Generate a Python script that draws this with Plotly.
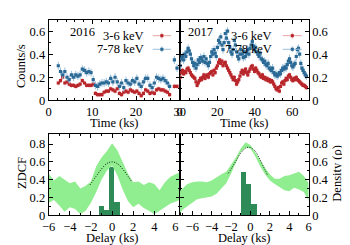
import plotly.graph_objects as go

# ---------------- data ----------------
T2016 = [2.2, 2.7, 3.2, 3.7, 4.2, 4.7, 5.2, 5.7, 6.2, 6.7, 7.2, 7.7, 8.2, 8.7, 9.2, 9.7,
         10.2, 10.7, 11.2, 11.7, 12.2, 12.7, 13.2, 13.7, 14.2, 14.7, 15.2, 15.7, 16.2, 16.7,
         17.2, 17.7, 18.2, 18.7, 19.2, 19.7, 20.2, 20.7, 21.2, 21.7, 22.2, 22.7, 23.2, 23.7,
         24.2, 24.7, 25.2, 25.7, 26.2, 26.7, 27.2, 27.7, 28.8, 29.4]
HARD2016 = [0.30, 0.25, 0.22, 0.25, 0.20, 0.18, 0.22, 0.20, 0.22, 0.21,
            0.22, 0.27, 0.26, 0.24, 0.25, 0.24, 0.18, 0.13, 0.12, 0.14,
            0.15, 0.15, 0.16, 0.15, 0.19, 0.16, 0.20, 0.16, 0.12, 0.15,
            0.11, 0.17, 0.15, 0.14, 0.17, 0.16, 0.19, 0.14, 0.12, 0.16,
            0.19, 0.19, 0.13, 0.11, 0.15, 0.20, 0.19, 0.18, 0.19, 0.17,
            0.15, 0.12, 0.35, 0.28]
SOFT2016 = [0.15, 0.17, 0.20, 0.15, 0.16, 0.14, 0.13, 0.13, 0.12, 0.13,
            0.14, 0.17, 0.15, 0.13, 0.13, 0.13, 0.14, 0.06, 0.05, 0.05,
            0.05, 0.07, 0.08, 0.08, 0.10, 0.09, 0.08, 0.10, 0.06, 0.05,
            0.07, 0.08, 0.07, 0.09, 0.08, 0.07, 0.08, 0.06, 0.04, 0.06,
            0.09, 0.08, 0.06, 0.07, 0.06, 0.09, 0.10, 0.09, 0.09, 0.08,
            0.07, 0.05, 0.12, 0.12]

T2017 = [0.3, 0.9, 1.5, 2.1, 2.7, 3.3, 3.9, 4.5, 5.1, 5.7, 6.3, 6.9, 7.5, 8.1, 8.7, 9.3, 9.9,
         10.5, 11.1, 11.7, 12.3, 12.9, 13.5, 14.1, 14.7, 15.3, 15.9, 16.5, 17.1, 17.7, 18.3,
         18.9, 19.5, 20.1, 20.7, 21.3, 21.9, 22.5, 23.1, 23.7, 24.3, 24.9, 25.5, 26.1, 26.7,
         27.3, 27.9, 28.5, 29.1, 29.7, 30.3, 30.9, 31.5, 32.1, 32.7, 33.3, 33.9, 34.5, 35.1,
         35.7, 36.3, 36.9, 37.5, 38.1, 38.7, 39.3, 39.9, 40.5, 41.1, 41.7, 42.3, 42.9, 43.5,
         44.1, 44.7, 45.3, 45.9, 46.5, 47.1, 47.7, 48.3, 48.9, 49.5, 50.1, 50.7, 51.3, 51.9,
         52.5, 53.1, 53.7, 54.3, 54.9, 55.5, 56.1, 56.7, 57.3, 57.9, 58.5, 59.1, 59.7, 60.3,
         60.9, 61.5, 62.1, 62.7, 63.3, 63.9, 64.5, 65.1, 65.7, 66.3, 66.9, 67.5]
HARD2017 = [0.30, 0.36, 0.38, 0.35, 0.40, 0.38, 0.42,
            0.45, 0.43, 0.40,
            0.36, 0.33, 0.30, 0.32, 0.28,
            0.31, 0.35, 0.33, 0.37, 0.36,
            0.34, 0.38, 0.33, 0.36, 0.32, 0.30, 0.33,
            0.38, 0.42, 0.40, 0.44, 0.41, 0.38,
            0.46, 0.52, 0.50, 0.55, 0.48, 0.44, 0.50,
            0.58, 0.54, 0.60, 0.50, 0.46, 0.42, 0.40,
            0.44, 0.52, 0.48, 0.42, 0.38, 0.36, 0.40,
            0.44, 0.40, 0.37, 0.42, 0.38, 0.41, 0.44, 0.40,
            0.45, 0.48, 0.51, 0.47, 0.44, 0.46, 0.42,
            0.40, 0.38, 0.41, 0.36, 0.35, 0.33, 0.34,
            0.31, 0.30, 0.32, 0.28, 0.27, 0.26, 0.28,
            0.24, 0.22, 0.23, 0.21, 0.22, 0.24, 0.23,
            0.26, 0.28, 0.27, 0.29, 0.28, 0.31, 0.34,
            0.36, 0.33, 0.30, 0.29, 0.31, 0.32, 0.38,
            0.44, 0.45, 0.40, 0.32, 0.28, 0.26, 0.24, 0.22, 0.21]
SOFT2017 = [0.20, 0.24, 0.26, 0.23, 0.25, 0.24, 0.27,
            0.28, 0.26, 0.24,
            0.22, 0.21, 0.20, 0.19, 0.16,
            0.13, 0.15, 0.17, 0.19, 0.18,
            0.20, 0.22, 0.19, 0.21, 0.22, 0.20, 0.23,
            0.24, 0.25, 0.22, 0.26, 0.24, 0.28,
            0.30, 0.33, 0.35, 0.32, 0.34, 0.30, 0.32,
            0.33, 0.30, 0.28, 0.26, 0.24, 0.22, 0.20,
            0.18, 0.20, 0.17, 0.14, 0.16, 0.18, 0.21,
            0.24, 0.26, 0.23, 0.25, 0.27, 0.24, 0.22, 0.25,
            0.27, 0.29, 0.30, 0.27, 0.25, 0.28, 0.26,
            0.24, 0.23, 0.21, 0.20, 0.22, 0.19, 0.20,
            0.18, 0.19, 0.17, 0.18, 0.16, 0.17, 0.16,
            0.14, 0.12, 0.10, 0.09, 0.11, 0.08, 0.12,
            0.15, 0.16, 0.14, 0.17, 0.19, 0.18, 0.21,
            0.22, 0.20, 0.18, 0.17, 0.19, 0.18, 0.20,
            0.18, 0.17, 0.16, 0.15, 0.14, 0.13, 0.13, 0.12, 0.11]

ERR_HARD = 0.035
ERR_SOFT = 0.02
ERR_T2016 = 0.25
ERR_T2017 = 0.3

# ZDCF 2016
DELAY_L = [-6, -5.5, -5, -4.5, -4, -3.5, -3, -2.5, -2, -1.5, -1, -0.5, 0, 0.5, 1, 1.5, 2,
           2.5, 3, 3.5, 4, 4.5, 5, 5.5, 6, 6.4]
ZDCF_HI_L = [0.47, 0.39, 0.44, 0.40, 0.36, 0.38, 0.30, 0.33, 0.38, 0.55,
             0.65, 0.72, 0.81, 0.73, 0.60, 0.47, 0.37, 0.38, 0.34, 0.37,
             0.35, 0.28, 0.37, 0.43, 0.46, 0.48]
ZDCF_LO_L = [0.14, 0.17, 0.11, 0.04, 0.09, 0.07, 0.01, 0.05, 0.14, 0.26,
             0.40, 0.50, 0.56, 0.45, 0.29, 0.16, 0.09, 0.13, 0.08, 0.05,
             0.01, 0.05, 0.08, 0.13, 0.15, 0.17]
HIST_X_L = [-1.05, -0.55, -0.05, 0.45]
HIST_Y_L = [0.10, 0.055, 0.535, 0.14]
FIT_X_L = [-2.1, -1.5, -1, -0.5, 0, 0.5, 1, 1.5, 1.9]
FIT_Y_L = [0.34, 0.44, 0.52, 0.58, 0.60, 0.58, 0.52, 0.44, 0.37]

# ZDCF 2017
DELAY_R = [-7.3, -7, -6.5, -6, -5.5, -5, -4.5, -4, -3.5, -3, -2.5, -2, -1.5, -1, -0.5, 0,
           0.5, 1, 1.5, 2, 2.5, 3, 3.5, 4, 4.5, 5, 5.5, 6]
ZDCF_HI_R = [0.27, 0.30, 0.35, 0.37, 0.38, 0.38, 0.37, 0.39, 0.43, 0.46,
             0.49, 0.57, 0.65, 0.75, 0.82, 0.79, 0.71, 0.62, 0.53, 0.46,
             0.41, 0.41, 0.44, 0.45, 0.47, 0.49, 0.44, 0.36]
ZDCF_LO_R = [0.02, 0.06, 0.10, 0.14, 0.18, 0.19, 0.20, 0.21, 0.24, 0.30,
             0.36, 0.47, 0.60, 0.71, 0.76, 0.75, 0.66, 0.55, 0.46, 0.39,
             0.35, 0.31, 0.28, 0.27, 0.31, 0.29, 0.26, 0.16]
HIST_X_R = [-0.73, -0.2, 0.33]
HIST_Y_R = [0.48, 0.345, 0.127]
FIT_X_R = [-2.3, -2, -1.5, -1, -0.5, -0.2, 0, 0.5, 1, 1.5, 1.8]
FIT_Y_R = [0.47, 0.52, 0.61, 0.70, 0.755, 0.765, 0.76, 0.72, 0.62, 0.51, 0.44]

# ---------------- style ----------------
W, H = 350, 245
FONT = "Liberation Serif"
RED = "#b8262b"
RED_ERR = "#eba2a2"
BLUE = "#2c6a96"
BLUE_ERR = "#9cc0dc"
BAND = "#90ee90"
BAR = "#2e8b57"


def px(x):
    return x / W


def py(y):
    return 1 - y / H


fig = go.Figure()


def lc_traces(t, soft, hard, et, xa, ya):
    fig.add_trace(go.Scatter(
        x=t, y=soft, mode="markers", xaxis=xa, yaxis=ya, showlegend=False,
        marker=dict(color=RED, size=3.2, symbol="square"),
        error_y=dict(type="constant", value=ERR_SOFT, color=RED_ERR, thickness=1, width=0),
        error_x=dict(type="constant", value=et, color=RED_ERR, thickness=1, width=0)))
    fig.add_trace(go.Scatter(
        x=t, y=hard, mode="markers", xaxis=xa, yaxis=ya, showlegend=False,
        marker=dict(color=BLUE, size=3.2, symbol="square"),
        error_y=dict(type="constant", value=ERR_HARD, color=BLUE_ERR, thickness=1, width=0),
        error_x=dict(type="constant", value=et, color=BLUE_ERR, thickness=1, width=0)))


lc_traces(T2016, SOFT2016, HARD2016, ERR_T2016, "x", "y")
lc_traces(T2017, SOFT2017, HARD2017, ERR_T2017, "x2", "y2")


def zdcf_traces(d, lo, hi, hx, hy, hw, fx, fy, xa, ya):
    fig.add_trace(go.Scatter(x=d, y=lo, mode="lines", line=dict(width=0, color=BAND),
                             xaxis=xa, yaxis=ya, showlegend=False, hoverinfo="skip"))
    fig.add_trace(go.Scatter(x=d, y=hi, mode="lines", line=dict(width=0, color=BAND),
                             fill="tonexty", fillcolor=BAND,
                             xaxis=xa, yaxis=ya, showlegend=False))
    fig.add_trace(go.Bar(x=hx, y=hy, width=hw, marker=dict(color=BAR, line=dict(width=0)),
                         xaxis=xa, yaxis=ya, showlegend=False))
    fig.add_trace(go.Scatter(x=fx, y=fy, mode="lines",
                             line=dict(color="black", width=0.9, dash="1px,1.5px", shape="spline"),
                             xaxis=xa, yaxis=ya, showlegend=False))


zdcf_traces(DELAY_L, ZDCF_LO_L, ZDCF_HI_L, HIST_X_L, HIST_Y_L, 0.5, FIT_X_L, FIT_Y_L, "x3", "y3")
zdcf_traces(DELAY_R, ZDCF_LO_R, ZDCF_HI_R, HIST_X_R, HIST_Y_R, 0.53, FIT_X_R, FIT_Y_R, "x4", "y4")

TOP = [py(95), py(12)]
BOT = [py(213.3), py(130)]
LEFT = [px(35), px(171)]
RIGHT = [px(171), px(305)]

tickfont = dict(family=FONT, size=12.5, color="black")


def ax(domain, rng, dtick, minor, anchor, side=None, labels=True, tickvals=None):
    d = dict(domain=domain, range=rng, dtick=dtick, tick0=0, anchor=anchor,
             showgrid=False, zeroline=False, showline=True, linecolor="black", linewidth=1,
             mirror="allticks", ticks="inside", ticklen=4, tickcolor="black", tickwidth=1,
             tickfont=tickfont, showticklabels=labels,
             minor=dict(ticks="inside", ticklen=2, dtick=minor, tickcolor="black", showgrid=False))
    if side:
        d["side"] = side
    if tickvals is not None:
        d["tickvals"] = tickvals
        d.pop("dtick")
    return d


fig.update_layout(
    width=W, height=H, autosize=False,
    margin=dict(l=0, r=0, t=0, b=0),
    paper_bgcolor="white", plot_bgcolor="white",
    barmode="overlay", bargap=0,
    font=dict(family=FONT, size=12.5, color="black"),
    xaxis=ax(LEFT, [0, 30], 10, 2, "y"),
    yaxis=ax(TOP, [0, 0.7], 0.2, 0.1, "x", tickvals=[0, 0.2, 0.4, 0.6]),
    xaxis2=ax(RIGHT, [0, 68.7], 20, 5, "y2"),
    yaxis2=ax(TOP, [0, 0.7], 0.2, 0.1, "x2", side="right", tickvals=[0, 0.2, 0.4, 0.6]),
    xaxis3=ax(LEFT, [-6, 6.4], 2, 1, "y3", tickvals=[-6, -4, -2, 0, 2, 4, 6]),
    yaxis3=ax(BOT, [0, 0.91], 0.2, 0.1, "x3", tickvals=[0, 0.2, 0.4, 0.6, 0.8]),
    xaxis4=ax(RIGHT, [-7.3, 6], 2, 1, "y4", tickvals=[-6, -4, -2, 0, 2, 4, 6]),
    yaxis4=ax(BOT, [0, 0.91], 0.2, 0.1, "x4", side="right", tickvals=[0, 0.2, 0.4, 0.6, 0.8]),
)

ann = []


def text(x, y, s, angle=0, xanchor="center"):
    ann.append(dict(x=px(x), y=py(y), xref="paper", yref="paper", text=s, showarrow=False,
                    textangle=angle, xanchor=xanchor, yanchor="middle",
                    font=dict(family=FONT, size=12.5, color="black")))


text(7, 60, "Counts/s", angle=-90)
text(7, 170, "ZDCF", angle=-90)
text(335, 170, "Density (ρ)", angle=-90)
text(103, 118, "Time (ks)")
text(238, 118, "Time (ks)")
text(101, 237, "Delay (ks)")
text(238, 237, "Delay (ks)")
text(70, 25, "2016")
text(193, 25, "2017")
text(136, 28.5, "3-6 keV", xanchor="right")
text(136, 42.5, "7-78 keV", xanchor="right")
text(269, 28.5, "3-6 keV", xanchor="right")
text(269, 42.5, "7-78 keV", xanchor="right")

shapes = []


def legend_item(x0, x1, y, col, ecol):
    shapes.append(dict(type="line", xref="paper", yref="paper", x0=px(x0), x1=px(x1),
                       y0=py(y), y1=py(y), line=dict(color=ecol, width=1)))
    xm = (x0 + x1) / 2
    shapes.append(dict(type="line", xref="paper", yref="paper", x0=px(xm), x1=px(xm),
                       y0=py(y - 3), y1=py(y + 3), line=dict(color=ecol, width=1)))
    shapes.append(dict(type="rect", xref="paper", yref="paper", x0=px(xm - 1.6), x1=px(xm + 1.6),
                       y0=py(y + 1.6), y1=py(y - 1.6), fillcolor=col, line=dict(width=0)))


legend_item(143, 162, 28.5, RED, RED_ERR)
legend_item(143, 162, 42.5, BLUE, BLUE_ERR)
legend_item(278, 298, 28.5, RED, RED_ERR)
legend_item(278, 298, 42.5, BLUE, BLUE_ERR)

fig.update_layout(annotations=ann, shapes=shapes)
fig.write_html("out.html")
